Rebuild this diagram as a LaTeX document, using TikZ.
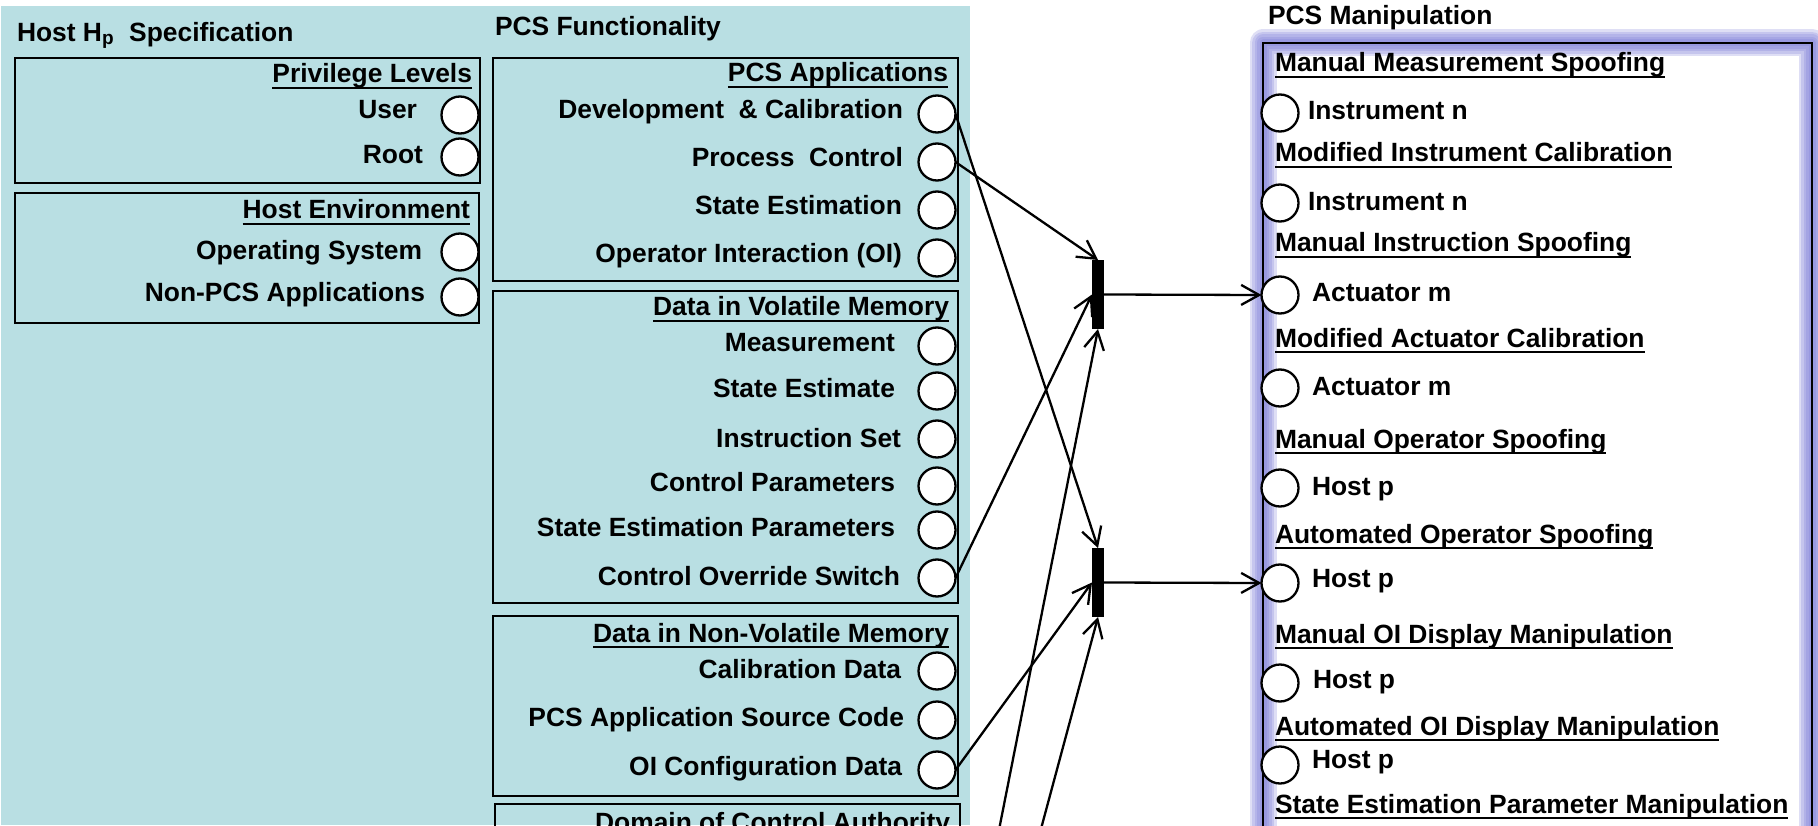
\documentclass[tikz,border=0pt]{standalone}
\usepackage{fontspec}
\setmainfont{Liberation Sans}
\usetikzlibrary{arrows.meta}

\definecolor{panelblue}{RGB}{185,223,227}
\definecolor{glowblue}{RGB}{120,120,215}

% heading with a drawn underline just below the baseline
\newcommand{\ulbox}[1]{\setbox0\hbox{#1}\rlap{\rule[-6.25pt]{\wd0}{2.5pt}}\box0}

\begin{document}
\begin{tikzpicture}[x=1pt,y=-1pt,
  every node/.style={font=\bfseries\fontsize{26.4}{30}\selectfont, inner sep=0pt, outer sep=0pt},
  lbl/.style={anchor=base east},
  rlbl/.style={anchor=base west},
  port/.style={circle, draw, fill=white, line width=2.3pt, minimum size=37pt},
  group/.style={draw, line width=2.3pt, anchor=north west},
  joinbar/.style={fill=black, minimum width=12pt, minimum height=69pt},
  link/.style={line width=2.3pt, -{Straight Barb[length=18pt,width=20pt]}},
]
\clip (0,0) rectangle (1818,826);

% ---------- host / PCS functionality panel ----------
\node[fill=panelblue, anchor=north west, minimum width=969pt, minimum height=819pt] (hostbg) at (1,6) {};

\node[rlbl] (hosttitle) at (17,42) {Host H\raisebox{-3pt}{\fontsize{19}{19}\selectfont p}\hspace{15.5pt}Specification};
\node[rlbl] (functitle) at (495,36) {PCS Functionality};

% privilege levels
\node[group, minimum width=465pt, minimum height=125pt] (privbox) at (15,58) {};
\node[lbl] (privhead) at (472,83) {\ulbox{Privilege Levels}};
\node[port] (user) at (460,115) {};
\node[lbl] (userlbl) at (417,119) {User};
\node[port] (root) at (460,157) {};
\node[lbl] (rootlbl) at (423,164) {Root};

% host environment
\node[group, minimum width=464pt, minimum height=130pt] (envbox) at (15,193) {};
\node[lbl] (envhead) at (470,219) {\ulbox{Host Environment}};
\node[port] (os) at (460,252) {};
\node[lbl] (oslbl) at (422,260) {Operating System};
\node[port] (nonpcs) at (460,297) {};
\node[lbl] (nonpcslbl) at (425,302) {Non-PCS Applications};

% PCS applications
\node[group, minimum width=465pt, minimum height=223pt] (appbox) at (493,58) {};
\node[lbl] (apphead) at (948,82) {\ulbox{PCS Applications}};
\node[port] (dev) at (937,114) {};
\node[lbl] (devlbl) at (903,119) {Development~ \& Calibration};
\node[port] (proc) at (937,162) {};
\node[lbl] (proclbl) at (903,167) {Process~ Control};
\node[port] (sest) at (937,210) {};
\node[lbl] (sestlbl) at (902,215) {State Estimation};
\node[port] (oi) at (937,258) {};
\node[lbl] (oilbl) at (902,263) {Operator Interaction (OI)};

% data in volatile memory
\node[group, minimum width=465pt, minimum height=312pt] (volbox) at (493,291) {};
\node[lbl] (volhead) at (949,316) {\ulbox{Data in Volatile Memory}};
\node[port] (meas) at (937,346) {};
\node[lbl] (measlbl) at (895,352) {Measurement};
\node[port] (sestim) at (937,391) {};
\node[lbl] (sestimlbl) at (895,397) {State Estimate};
\node[port] (instr) at (937,439) {};
\node[lbl] (instrlbl) at (901,447) {Instruction Set};
\node[port] (cpar) at (937,486) {};
\node[lbl] (cparlbl) at (895,491) {Control Parameters};
\node[port] (separ) at (937,530) {};
\node[lbl] (separlbl) at (895,536) {State Estimation Parameters};
\node[port] (ovr) at (937,578) {};
\node[lbl] (ovrlbl) at (900,585) {Control Override Switch};

% data in non-volatile memory
\node[group, minimum width=465pt, minimum height=180pt] (nvbox) at (493,616) {};
\node[lbl] (nvhead) at (949,642) {\ulbox{Data in Non-Volatile Memory}};
\node[port] (cal) at (937,671) {};
\node[lbl] (callbl) at (901,678) {Calibration Data};
\node[port] (src) at (937,720) {};
\node[lbl] (srclbl) at (904,726) {PCS Application Source Code};
\node[port] (oicfg) at (937,770) {};
\node[lbl] (oicfglbl) at (902,775) {OI Configuration Data};

% domain of control authority (runs past the lower edge)
\node[group, minimum width=465pt, minimum height=60pt] (dombox) at (495,804) {};
\node[lbl] (domhead) at (950,831) {\ulbox{Domain of Control Authority}};

% ---------- PCS manipulation panel ----------
\node[rlbl] (maniptitle) at (1268,25) {PCS Manipulation};
\node[fill=white, anchor=north west, minimum width=549pt, minimum height=820pt] (manip) at (1263,43) {};
\foreach \w in {27,22,17,12,7}
  \draw[glowblue, opacity=0.24, line width=\w pt, line join=round]
    (manip.north west) rectangle (manip.south east);
\draw[line width=2.3pt] (manip.north west) rectangle (manip.south east);

\node[rlbl] (mms) at (1275,72) {\ulbox{Manual Measurement Spoofing}};
\node[port] (m1) at (1280,113) {};
\node[rlbl] (m1lbl) at (1308,120) {Instrument n};
\node[rlbl] (mic) at (1275,162) {\ulbox{Modified Instrument Calibration}};
\node[port] (m2) at (1280,203) {};
\node[rlbl] (m2lbl) at (1308,211) {Instrument n};
\node[rlbl] (mis) at (1275,252) {\ulbox{Manual Instruction Spoofing}};
\node[port] (m3) at (1280,295) {};
\node[rlbl] (m3lbl) at (1312,302) {Actuator m};
\node[rlbl] (mac) at (1275,347) {\ulbox{Modified Actuator Calibration}};
\node[port] (m4) at (1280,388) {};
\node[rlbl] (m4lbl) at (1312,395) {Actuator m};
\node[rlbl] (mos) at (1275,448) {\ulbox{Manual Operator Spoofing}};
\node[port] (m5) at (1280,488) {};
\node[rlbl] (m5lbl) at (1312,495) {Host p};
\node[rlbl] (aos) at (1275,543) {\ulbox{Automated Operator Spoofing}};
\node[port] (m6) at (1280,583) {};
\node[rlbl] (m6lbl) at (1312,587) {Host p};
\node[rlbl] (moi) at (1275,643) {\ulbox{Manual OI Display Manipulation}};
\node[port] (m7) at (1280,683) {};
\node[rlbl] (m7lbl) at (1313,688) {Host p};
\node[rlbl] (aoi) at (1275,735) {\ulbox{Automated OI Display Manipulation}};
\node[port] (m8) at (1280,765) {};
\node[rlbl] (m8lbl) at (1312,768) {Host p};
\node[rlbl] (sepm) at (1275,813) {\ulbox{State Estimation Parameter Manipulation}};

% ---------- join bars and connectors ----------
\node[joinbar] (ubar) at (1098,294.5) {};
\node[joinbar] (lbar) at (1098,582.5) {};
\coordinate (srcA) at (997,840);
\coordinate (srcB) at (1038,840);

\draw[link] (proc.east) -- (ubar.north);
\draw[link] (ovr.east) -- (ubar.west);
\draw[link] (srcA) -- (ubar.south);
\draw[link] (dev.east) -- (lbar.north);
\draw[link] (oicfg.east) -- (lbar.west);
\draw[link] (srcB) -- (lbar.south);
\draw[link] (ubar.east) -- (m3.west);
\draw[link] (lbar.east) -- (m6.west);
\end{tikzpicture}
\end{document}
